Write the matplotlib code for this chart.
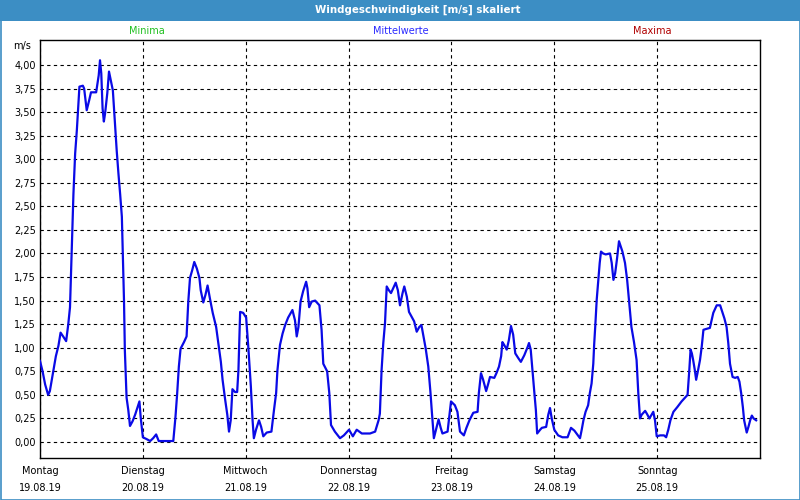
import matplotlib
matplotlib.use('Agg')
import matplotlib.pyplot as plt
from matplotlib.patches import Rectangle

# Stunden seit Montag 00:00 und Windgeschwindigkeit (m/s)
hours = [0, 0.6, 1.2, 1.9, 2.3, 3.1, 3.7, 4.3, 4.8, 5.4, 6.1, 6.6, 7.0, 7.4, 7.8, 8.2, 8.6, 8.9,
         9.2, 10.0, 10.3, 10.9, 11.5, 11.9, 13.1, 13.4, 13.7, 14.0, 14.3, 14.6, 14.9, 15.2, 15.7,
         16.1, 16.5, 17.0, 17.3, 17.6, 17.9, 18.3, 18.7, 19.1, 19.3, 19.6, 19.8, 20.2, 20.6, 21.0,
         21.6, 22.2, 22.7, 23.2, 23.5, 24.0, 24.9, 25.7, 26.4, 27.1, 27.7, 31.1, 31.6, 32.0, 32.4,
         32.8, 33.6, 34.2, 34.6, 35.0, 35.5, 36.0, 36.6, 37.2, 37.5, 38.1, 38.6, 39.1, 39.7, 40.3,
         41.1, 41.6, 42.2, 42.6, 43.2, 43.7, 44.1, 44.5, 44.9, 45.5, 46.0, 46.3, 46.7, 47.4, 48.1,
         48.6, 49.2, 49.6, 49.9, 50.4, 51.1, 51.6, 52.1, 52.9, 54.0, 54.6, 55.1, 55.4, 56.0, 56.6,
         57.2, 57.9, 58.9, 59.5, 59.9, 60.3, 60.8, 61.4, 62.1, 62.4, 62.8, 63.4, 64.2, 65.2, 65.7,
         66.1, 67.0, 67.5, 67.9, 68.8, 70.0, 70.9, 72.1, 73.0, 73.9, 75.1, 77.0, 78.2, 79.0, 79.3,
         79.7, 80.1, 80.5, 80.9, 81.4, 81.9, 82.4, 83.0, 83.5, 84.0, 84.6, 85.0, 85.6, 86.1, 86.7,
         87.3, 87.9, 88.5, 89.0, 89.4, 90.0, 90.6, 91.1, 91.4, 91.9, 92.4, 93.0, 93.5, 93.9, 95.1,
         95.5, 95.9, 96.8, 97.4, 98.0, 98.9, 99.5, 100.2, 101.1, 102.1, 102.4, 102.9, 103.4, 104.1,
         104.6, 105.0, 106.0, 106.5, 107.1, 107.6, 107.9, 108.3, 108.9, 109.4, 109.9, 110.4, 110.9,
         111.6, 112.2, 113.0, 113.8, 114.1, 114.5, 114.9, 115.3, 115.7, 116.0, 116.7, 117.1, 118.1,
         118.6, 119.0, 119.4, 120.0, 120.9, 121.9, 123.1, 123.9, 124.7, 125.5, 126.0, 126.4, 126.8,
         127.3, 127.9, 128.3, 128.7, 129.1, 129.3, 129.6, 129.9, 130.3, 130.6, 130.9, 131.4, 132.0,
         133.0, 133.4, 133.8, 134.2, 134.6, 135.1, 135.9, 136.5, 137.0, 137.5, 138.0, 138.6, 139.2,
         139.6, 140.0, 140.4, 141.2, 141.6, 142.2, 142.7, 143.1, 143.5, 143.9, 144.7, 145.6, 146.1,
         146.6, 147.1, 147.8, 148.7, 149.7, 150.7, 151.1, 151.5, 151.8, 152.1, 152.4, 152.8, 153.1,
         153.5, 154.0, 154.4, 154.8, 155.5, 156.3, 156.7, 157.1, 157.9, 158.7, 159.2, 159.7, 160.2,
         160.6, 161.0, 161.6, 162.2, 162.8, 163.2, 163.6, 164.0, 164.3, 164.9, 165.3, 165.7, 166.1,
         166.5, 167.1]
wind = [0.86, 0.75, 0.61, 0.50, 0.54, 0.75, 0.91, 1.02, 1.16, 1.12, 1.07, 1.25, 1.43, 2.03, 2.63,
        3.06, 3.31, 3.54, 3.77, 3.78, 3.75, 3.52, 3.63, 3.71, 3.71, 3.80, 3.89, 4.05, 3.91, 3.54,
        3.40, 3.49, 3.70, 3.93, 3.84, 3.73, 3.52, 3.31, 3.09, 2.85, 2.63, 2.39, 2.03, 1.50, 0.97,
        0.47, 0.34, 0.17, 0.22, 0.29, 0.36, 0.43, 0.26, 0.05, 0.03, 0.01, 0.04, 0.08, 0.01, 0.01,
        0.26, 0.51, 0.80, 0.99, 1.06, 1.12, 1.49, 1.74, 1.82, 1.91, 1.84, 1.74, 1.61, 1.48, 1.56,
        1.66, 1.51, 1.37, 1.22, 1.05, 0.85, 0.66, 0.45, 0.29, 0.11, 0.23, 0.56, 0.53, 0.53, 0.76,
        1.38, 1.37, 1.32, 1.01, 0.59, 0.23, 0.04, 0.13, 0.23, 0.16, 0.06, 0.10, 0.11, 0.34, 0.52,
        0.76, 1.03, 1.15, 1.24, 1.32, 1.40, 1.29, 1.12, 1.22, 1.49, 1.60, 1.70, 1.63, 1.43, 1.49,
        1.50, 1.45, 1.19, 0.83, 0.75, 0.52, 0.18, 0.11, 0.04, 0.07, 0.13, 0.06, 0.13, 0.09, 0.09,
        0.11, 0.23, 0.30, 0.76, 1.05, 1.26, 1.65, 1.61, 1.58, 1.63, 1.69, 1.61, 1.45, 1.58, 1.65,
        1.54, 1.38, 1.33, 1.28, 1.17, 1.22, 1.24, 1.14, 0.99, 0.80, 0.53, 0.34, 0.04, 0.13, 0.24,
        0.15, 0.09, 0.11, 0.27, 0.43, 0.39, 0.32, 0.11, 0.07, 0.15, 0.23, 0.31, 0.32, 0.52, 0.73,
        0.66, 0.54, 0.62, 0.69, 0.68, 0.73, 0.80, 0.91, 1.06, 1.03, 0.98, 1.08, 1.23, 1.14, 0.94,
        0.89, 0.85, 0.92, 1.01, 1.05, 0.98, 0.76, 0.55, 0.34, 0.09, 0.13, 0.15, 0.16, 0.29, 0.36,
        0.25, 0.13, 0.07, 0.05, 0.05, 0.15, 0.12, 0.07, 0.04, 0.13, 0.23, 0.32, 0.39, 0.52, 0.62,
        0.83, 1.03, 1.26, 1.51, 1.74, 1.90, 2.02, 2.00, 1.99, 2.00, 1.90, 1.72, 1.79, 1.93, 2.13,
        2.02, 1.90, 1.72, 1.47, 1.22, 1.06, 0.87, 0.52, 0.25, 0.29, 0.33, 0.30, 0.25, 0.29, 0.32,
        0.23, 0.06, 0.07, 0.07, 0.05, 0.13, 0.23, 0.32, 0.37, 0.43, 0.48, 0.50, 0.76, 0.98, 0.94,
        0.87, 0.76, 0.66, 0.75, 0.87, 1.01, 1.19, 1.20, 1.21, 1.29, 1.37, 1.45, 1.45, 1.38, 1.31,
        1.22, 1.05, 0.83, 0.69, 0.68, 0.69, 0.64, 0.52, 0.37, 0.23, 0.10, 0.16, 0.23, 0.28, 0.25,
        0.23]

day_ticks = [0, 24, 48, 72, 96, 120, 144]
day_labels = ["Montag\n19.08.19", "Dienstag\n20.08.19", "Mittwoch\n21.08.19",
              "Donnerstag\n22.08.19", "Freitag\n23.08.19", "Samstag\n24.08.19",
              "Sonntag\n25.08.19"]
y_ticks = [i * 0.25 for i in range(17)]
y_labels = ["%.2f" % v for v in y_ticks]
y_labels = [s.replace(".", ",") for s in y_labels]

plt.rcParams['font.family'] = ['DejaVu Sans']

fig = plt.figure(figsize=(8, 5), dpi=100)
fig.patch.set_facecolor('white')

# Titelleiste und Fensterrahmen
blue = '#3c8ec4'
fig.patches.append(Rectangle((0, 1 - 21 / 500), 1, 21 / 500, transform=fig.transFigure,
                             facecolor=blue, edgecolor='none', zorder=0))
fig.patches.append(Rectangle((0.5 / 800, 0.5 / 500), 799 / 800, 499 / 500, transform=fig.transFigure,
                             facecolor='none', edgecolor=blue, linewidth=1.2, zorder=0))
fig.text(418 / 800, 1 - 10 / 500, "Windgeschwindigkeit [m/s] skaliert", color='white',
         fontsize=7.4, fontweight='bold', ha='center', va='center')

fig.text(147 / 800, 1 - 31 / 500, "Minima", color='#20c020', fontsize=7, ha='center', va='center')
fig.text(401 / 800, 1 - 31 / 500, "Mittelwerte", color='#2a2aff', fontsize=7, ha='center', va='center')
fig.text(652 / 800, 1 - 31 / 500, "Maxima", color='#b00000', fontsize=7, ha='center', va='center')
fig.text(22 / 800, 1 - 46 / 500, "m/s", color='black', fontsize=7, ha='center', va='center')

ax = fig.add_axes([40 / 800, 42 / 500, 720 / 800, 418 / 500])
ax.plot(hours, wind, color='#0a0ae6', linewidth=1.6, zorder=3)

ax.set_xlim(0, 168)
ax.set_ylim(-0.17, 4.265)
ax.set_xticks(day_ticks)
ax.set_xticklabels(day_labels, fontsize=7, linespacing=1.8)
ax.set_yticks(y_ticks)
ax.set_yticklabels(y_labels, fontsize=7)
ax.tick_params(axis='both', length=0)
ax.tick_params(axis='x', pad=6)
ax.tick_params(axis='y', pad=3)

ax.grid(True, color='black', linestyle=(0, (3, 3)), linewidth=0.8)
for s in ax.spines.values():
    s.set_color('black')
    s.set_linewidth(1.0)

plt.savefig("out.png", dpi=100)
